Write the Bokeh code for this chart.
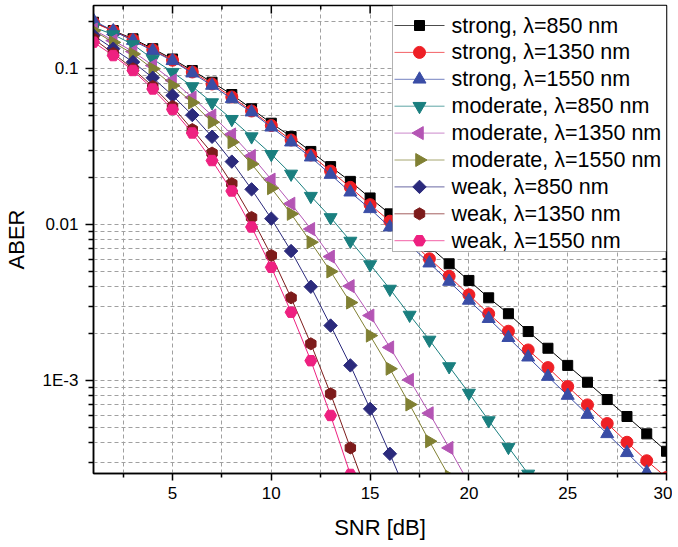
import math
from bokeh.plotting import figure
from bokeh.models import FixedTicker, CustomJSTickFormatter, Range1d, BoxAnnotation
from bokeh.core.properties import value
from bokeh.embed import file_html
from bokeh.resources import INLINE

# ---------------- data ----------------
snr_db = list(range(1, 31))

strong_850 = [0.198, 0.175, 0.155, 0.134, 0.115, 0.0971, 0.0817, 0.0681, 0.0552, 0.0446,
              0.0366, 0.0294, 0.0235, 0.0189, 0.0148, 0.0117, 0.00922, 0.00723, 0.00560, 0.00438,
              0.00339, 0.00268, 0.00206, 0.00161, 0.00125, 0.000975, 0.000755, 0.000588, 0.000455, 0.000352]
strong_1350 = [0.197, 0.174, 0.153, 0.132, 0.113, 0.0950, 0.0796, 0.0657, 0.0534, 0.0431,
               0.0348, 0.0279, 0.0220, 0.0173, 0.0134, 0.0105, 0.00796, 0.00603, 0.00466, 0.00354,
               0.00268, 0.00207, 0.00157, 0.00121, 0.000915, 0.000698, 0.000530, 0.000402, 0.000306, 0.000239]
strong_1550 = [0.203, 0.174, 0.151, 0.130, 0.112, 0.0933, 0.0778, 0.0639, 0.0525, 0.0420,
               0.0337, 0.0270, 0.0209, 0.0161, 0.0126, 0.00961, 0.00739, 0.00565, 0.00431, 0.00326,
               0.00249, 0.00188, 0.00141, 0.00106, 0.000801, 0.000605, 0.000455, 0.000344, 0.000258, 0.000194]
moderate_850 = [0.184, 0.165, 0.1425, 0.115, 0.0947, 0.0767, 0.0605, 0.0473, 0.0366, 0.0282,
                0.0211, 0.0152, 0.0111, 0.00784, 0.00554, 0.00386, 0.00263, 0.00182, 0.00123, 0.000832,
                0.000554, 0.000374, 0.000252, 0.000168]
moderate_1350 = [0.178, 0.151, 0.1285, 0.1045, 0.0838, 0.0652, 0.0500, 0.0378, 0.0275, 0.0194,
                 0.0136, 0.00936, 0.00623, 0.00403, 0.00261, 0.00163, 0.00101, 0.000617, 0.000370, 0.000219]
moderate_1550 = [0.175, 0.147, 0.124, 0.0996, 0.0778, 0.0605, 0.0453, 0.0337, 0.0244, 0.0171,
                 0.0117, 0.00770, 0.00500, 0.00316, 0.00194, 0.00119, 0.000702, 0.000408, 0.000242, 0.000136]
weak_850 = [0.163, 0.134, 0.110, 0.0872, 0.0671, 0.0503, 0.0365, 0.0253, 0.0168, 0.0109,
            0.00676, 0.00399, 0.00225, 0.00125, 0.000658, 0.000339, 0.000170]
weak_1350 = [0.155, 0.125, 0.0996, 0.0767, 0.0571, 0.0406, 0.0287, 0.0183, 0.0111, 0.00633,
             0.00339, 0.00172, 0.000822, 0.000370, 0.000168]
weak_1550 = [0.1475, 0.121, 0.0971, 0.0739, 0.0546, 0.0386, 0.0257, 0.0164, 0.00964, 0.00532,
             0.00274, 0.00134, 0.000597, 0.000250, 0.000101]

series_labels = ["strong, λ=850 nm", "strong, λ=1350 nm", "strong, λ=1550 nm",
                 "moderate, λ=850 nm", "moderate, λ=1350 nm", "moderate, λ=1550 nm",
                 "weak, λ=850 nm", "weak, λ=1350 nm", "weak, λ=1550 nm"]
series_values = [strong_850, strong_1350, strong_1550,
                 moderate_850, moderate_1350, moderate_1550,
                 weak_850, weak_1350, weak_1550]

x_ticks = [5, 10, 15, 20, 25, 30]
x_minor = [2.5, 7.5, 12.5, 17.5, 22.5, 27.5]
y_tick_values = [0.001, 0.01, 0.1]
y_tick_labels = ["1E-3", "0.01", "0.1"]
y_minor = [m * d for d in (1e-4, 1e-3, 1e-2, 1e-1) for m in range(2, 10)]

X_LO, X_HI = 1, 30
Y_LO, Y_HI = 2.535e-4, 0.2534

# ---------------- styling ----------------
colors = ["#000000", "#EE1F25", "#3A4DA6", "#1A7F7F", "#B455B4",
          "#808033", "#2B2A7C", "#7D1B1B", "#EE2080"]
markers = ["square", "circle", "triangle", "inverted_triangle", "triangle",
           "triangle", "square", "hex", "hex"]
angles = [0, 0, 0, 0, math.pi / 2, -math.pi / 2, math.pi / 4, math.pi / 2, 0]
sizes = [10, 12, 13, 13, 13, 13, 9.5, 12, 12]

FONT = "Liberation Sans"
FW, FH = 573, 468

p = figure(x_range=Range1d(X_LO, X_HI), y_range=Range1d(Y_LO, Y_HI), y_axis_type="log",
           frame_width=FW, frame_height=FH,
           min_border_left=85, min_border_right=6, min_border_top=5, min_border_bottom=62,
           output_backend="svg", toolbar_location=None)

p.background_fill_color = "white"
p.border_fill_color = "white"
p.outline_line_color = "black"
p.outline_line_width = 1.5

p.xaxis.ticker = FixedTicker(ticks=x_ticks, minor_ticks=x_minor)
p.xaxis.axis_label = "SNR [dB]"
p.yaxis.axis_label = "ABER"
for ax in (p.xaxis[0], p.yaxis[0]):
    ax.axis_label_text_font = FONT
    ax.axis_label_text_font_size = "22px"
    ax.axis_label_text_font_style = "normal"
    ax.axis_label_text_color = "black"
    ax.major_label_text_font = FONT
    ax.major_label_text_font_size = "17px"
    ax.major_label_text_color = "black"
    ax.axis_line_color = "black"
    ax.axis_line_width = 1.5
    ax.major_tick_line_color = "black"
    ax.minor_tick_line_color = "black"
    ax.major_tick_line_width = 1.5
    ax.minor_tick_line_width = 1.5
    ax.major_tick_in = 0
    ax.minor_tick_in = 0

p.xaxis.major_tick_out = 7
p.xaxis.minor_tick_out = 4
p.xaxis.major_label_standoff = 6
p.xaxis.axis_label_standoff = 13

p.yaxis.ticker = FixedTicker(ticks=y_tick_values, minor_ticks=y_minor)
p.yaxis.formatter = CustomJSTickFormatter(args=dict(vals=y_tick_values, labs=y_tick_labels), code="""
for (let i = 0; i < vals.length; i++) {
  if (Math.abs(Math.log10(tick) - Math.log10(vals[i])) < 1e-6) return labs[i];
}
return '';
""")
p.yaxis.major_tick_out = 8
p.yaxis.minor_tick_out = 5
p.yaxis.major_label_standoff = 7
p.yaxis.axis_label_standoff = 11

for g in (p.xgrid[0], p.ygrid[0]):
    g.grid_line_color = "#a0a0a0"
    g.grid_line_dash = "4 3"
    g.grid_line_width = 1
    g.minor_grid_line_color = "#a0a0a0"
    g.minor_grid_line_dash = "4 3"
    g.minor_grid_line_width = 1

# helpers: pixel offsets inside the frame -> data coordinates
px_per_x = FW / (X_HI - X_LO)
px_per_dec = FH / (math.log10(Y_HI) - math.log10(Y_LO))
def dx(px_from_left):
    return X_LO + px_from_left / px_per_x
def dy(px_from_top):
    return 10 ** (math.log10(Y_HI) - px_from_top / px_per_dec)

# mirrored inward ticks on the top and right edges
tx = x_ticks + x_minor
tlen = [8] * len(x_ticks) + [4] * len(x_minor)
p.segment(x0=tx, y0=[Y_HI] * len(tx), x1=tx, y1=[dy(L) for L in tlen],
          line_color="black", line_width=1.5)
ty = y_tick_values + y_minor
rlen = [8] * len(y_tick_values) + [4] * len(y_minor)
p.segment(x0=[X_HI] * len(ty), y0=ty, x1=[X_HI - L / px_per_x for L in rlen], y1=ty,
          line_color="black", line_width=1.5)

# series
for vals, col, mk, ang, sz in zip(series_values, colors, markers, angles, sizes):
    xs = snr_db[:len(vals)]
    p.line(xs, vals, line_color=col, line_width=1)
    p.scatter(xs, vals, marker=mk, size=sz, angle=ang, fill_color=col, line_color=col)

# legend (drawn by hand so that rotated markers show correctly)
LEG_W, LEG_H = 274, 246
ROW0, ROW_H = 20, 26.9
leg_left = FW - LEG_W
p.add_layout(BoxAnnotation(left=dx(leg_left), right=dx(FW), top=dy(0), bottom=dy(LEG_H),
                           fill_color="white", fill_alpha=1.0, line_color="black", line_width=1,
                           level="annotation"))
for i, (lab, col, mk, ang, sz) in enumerate(zip(series_labels, colors, markers, angles, sizes)):
    yrow = dy(ROW0 + i * ROW_H)
    p.line([dx(leg_left + 2), dx(leg_left + 52)], [yrow, yrow], line_color=col, line_width=1,
           line_alpha=0.7, level="overlay")
    p.scatter([dx(leg_left + 27)], [yrow], marker=mk, size=sz, angle=ang,
              fill_color=col, line_color=col, level="overlay")
    p.text([dx(leg_left + 59)], [yrow], text=[lab], text_font=value(FONT),
           text_font_size="21.5px", text_baseline="middle", text_align="left",
           text_color="black", level="overlay")

open("out.html", "w").write(file_html(p, INLINE))
